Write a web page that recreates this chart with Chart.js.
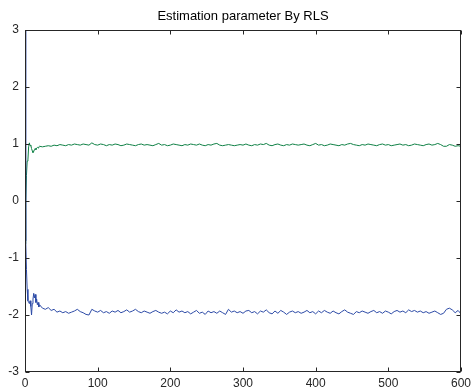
<!DOCTYPE html>
<html>
<head>
<meta charset="utf-8">
<script src="https://cdn.jsdelivr.net/npm/chart.js@4"></script>
<style>
  html, body { margin: 0; padding: 0; background: #fff; }
  #wrap { width: 472px; height: 389px; }
</style>
</head>
<body>
<div id="wrap"><canvas id="c" width="472" height="389"></canvas></div>
<script>
// ---- data ----
const titleText = 'Estimation parameter By RLS';

const steps = [
  0,1,2,3,4,5,6,7,8,9,10,11,12,13,14,15,16,17,18,19,20,
  24,28,32,36,40,44,48,52,56,60,
  64,68,72,76,80,84,88,92,96,100,
  104,108,112,116,120,124,128,132,136,140,
  144,148,152,156,160,164,168,172,176,180,
  184,188,192,196,200,204,208,212,216,220,
  224,228,232,236,240,244,248,252,256,260,
  264,268,272,276,280,284,288,292,296,300,
  304,308,312,316,320,324,328,332,336,340,
  344,348,352,356,360,364,368,372,376,380,
  384,388,392,396,400,404,408,412,416,420,
  424,428,432,436,440,444,448,452,456,460,
  464,468,472,476,480,484,488,492,496,500,
  504,508,512,516,520,524,528,532,536,540,
  544,548,552,556,560,564,568,572,576,580,
  584,588,592,596,600
];

const paramA = [ // blue, converges to about -2
  3.0,-0.7,-1.2,-1.55,-1.75,-1.78,-1.80,-1.75,-1.85,-2.00,-1.80,-1.72,-1.62,-1.70,-1.64,-1.78,-1.72,-1.82,-1.78,-1.86,-1.82,
  -1.88,-1.90,-1.87,-1.92,-1.90,-1.95,-1.93,-1.96,-1.94,-1.97,
  -1.95,-1.93,-1.90,-1.94,-1.96,-1.99,-2.00,-1.90,-1.93,-1.95,
  -1.92,-1.96,-1.94,-1.97,-1.93,-1.95,-1.92,-1.96,-1.94,-1.91,
  -1.95,-1.93,-1.90,-1.94,-1.96,-1.93,-1.95,-1.97,-1.94,-1.92,
  -1.95,-1.97,-1.95,-1.98,-1.93,-1.96,-1.91,-1.95,-1.93,-1.96,
  -1.94,-1.98,-1.95,-1.92,-1.97,-1.95,-1.99,-1.93,-1.96,-1.94,
  -1.97,-1.93,-1.96,-1.99,-1.90,-1.95,-1.93,-1.96,-1.94,-1.97,
  -1.93,-1.92,-1.96,-1.94,-1.98,-1.93,-1.95,-1.91,-1.96,-1.98,
  -1.93,-1.97,-1.92,-1.95,-1.99,-1.95,-1.93,-1.96,-1.94,-1.97,
  -1.95,-1.92,-1.96,-1.94,-1.98,-1.93,-1.96,-1.92,-1.95,-1.97,
  -1.93,-1.96,-1.98,-1.94,-1.91,-1.95,-1.97,-1.99,-1.94,-1.96,
  -1.93,-1.95,-1.97,-1.94,-1.92,-1.96,-1.94,-1.97,-1.93,-1.95,
  -1.98,-1.94,-1.92,-1.95,-1.93,-1.96,-1.91,-1.94,-1.92,-1.95,
  -1.93,-1.96,-1.94,-1.97,-1.95,-1.93,-1.96,-1.99,-1.97,-1.90,
  -1.88,-1.91,-1.96,-1.92,-1.98
];

const paramB = [ // green, converges to about 1
  -0.75,0.0,0.45,0.70,0.72,0.95,1.02,0.97,0.98,0.92,0.88,0.85,0.87,0.90,0.92,0.90,0.93,0.94,0.93,0.95,0.96,
  0.95,0.96,0.97,0.96,0.98,0.97,0.99,0.98,0.97,0.99,
  0.98,1.00,0.99,0.98,1.00,0.99,0.98,1.02,0.99,0.98,
  1.00,0.99,0.97,0.99,0.98,1.00,0.99,0.97,0.98,1.00,
  0.99,0.98,0.97,0.99,1.00,0.98,0.99,0.98,0.97,0.99,
  1.01,0.98,0.99,0.97,0.98,1.00,0.99,0.98,0.97,0.99,
  0.98,1.00,0.99,0.98,1.00,0.98,0.97,0.99,0.98,1.00,
  1.01,0.98,0.97,0.98,0.99,0.98,0.97,0.98,0.99,0.98,
  1.00,0.98,0.97,0.99,0.98,1.00,0.99,1.01,0.98,0.97,
  0.99,1.00,0.98,0.97,0.99,0.98,1.00,0.99,0.98,0.99,
  1.00,0.98,0.97,0.99,1.01,0.98,0.99,0.97,0.98,1.00,
  0.99,0.98,0.97,0.99,0.98,1.00,1.01,0.99,0.98,0.97,
  0.99,0.98,1.00,0.99,0.98,0.97,0.99,1.00,0.98,0.99,
  0.97,0.98,0.99,1.00,0.98,0.99,0.97,0.98,1.00,0.99,
  0.98,0.97,0.99,1.00,0.98,0.99,1.01,0.99,0.96,0.96,
  0.99,0.98,0.96,0.97,0.96
];

const xTicks = [0,100,200,300,400,500,600];
const yTicks = [-3,-2,-1,0,1,2,3];

// ---- build ----
const toPts = (ys) => steps.map((x, i) => ({ x: x, y: ys[i] }));

const FONT = "'Liberation Sans', Arial, sans-serif";
const AXIS_COLOR = '#262626';

const boxAndTicks = {
  id: 'boxAndTicks',
  afterDatasetsDraw(chart) {
    const { ctx, chartArea: a, scales } = chart;
    const L = Math.round(a.left) + 0.5, R = Math.round(a.right) - 0.5;
    const T = Math.round(a.top) + 0.5, B = Math.round(a.bottom) - 0.5;
    ctx.save();
    ctx.strokeStyle = AXIS_COLOR;
    ctx.lineWidth = 1;
    ctx.strokeRect(L, T, R - L, B - T);
    const len = 4;
    ctx.beginPath();
    xTicks.forEach(v => {
      const px = Math.round(scales.x.getPixelForValue(v)) + 0.5;
      ctx.moveTo(px, B); ctx.lineTo(px, B - len);
      ctx.moveTo(px, T); ctx.lineTo(px, T + len);
    });
    yTicks.forEach(v => {
      const py = Math.round(scales.y.getPixelForValue(v)) + 0.5;
      ctx.moveTo(L, py); ctx.lineTo(L + len, py);
      ctx.moveTo(R, py); ctx.lineTo(R - len, py);
    });
    ctx.stroke();
    ctx.restore();
  }
};

new Chart(document.getElementById('c'), {
  type: 'line',
  data: {
    datasets: [
      { label: 'a', data: toPts(paramA), borderColor: '#2c4aa6', borderWidth: 1, pointRadius: 0, tension: 0, fill: false, order: 1 },
      { label: 'b', data: toPts(paramB), borderColor: '#0f8045', borderWidth: 1, pointRadius: 0, tension: 0, fill: false, order: 2 }
    ]
  },
  options: {
    responsive: false,
    animation: false,
    devicePixelRatio: 1,
    layout: { padding: { left: 0, right: 11, top: 0, bottom: 0 } },
    plugins: {
      legend: { display: false },
      tooltip: { enabled: false },
      title: {
        display: true,
        text: titleText,
        color: '#000',
        font: { family: FONT, size: 13, weight: 'normal' },
        padding: { top: 9, bottom: 5.4 },
        fullSize: false
      }
    },
    scales: {
      x: {
        type: 'linear',
        min: 0, max: 600,
        afterBuildTicks: (s) => { s.ticks = xTicks.map(v => ({ value: v })); },
        afterFit: (s) => { s.height = 17; s.paddingLeft = 0; s.paddingRight = 0; },
        grid: { display: false, drawTicks: false },
        border: { display: false },
        ticks: { color: AXIS_COLOR, padding: 4, maxRotation: 0, autoSkip: false, font: { family: FONT, size: 12 } }
      },
      y: {
        type: 'linear',
        min: -3, max: 3,
        afterBuildTicks: (s) => { s.ticks = yTicks.map(v => ({ value: v })); },
        afterFit: (s) => { s.width = 25; s.paddingTop = 0; s.paddingBottom = 0; },
        grid: { display: false, drawTicks: false },
        border: { display: false },
        ticks: { color: AXIS_COLOR, padding: 6, autoSkip: false, font: { family: FONT, size: 12 } }
      }
    }
  },
  plugins: [boxAndTicks]
});
</script>
</body>
</html>
